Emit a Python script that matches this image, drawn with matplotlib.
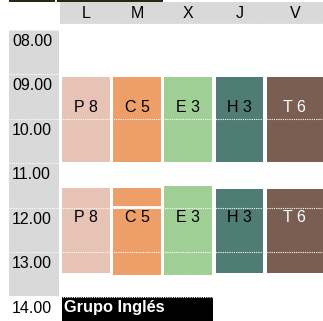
import matplotlib
matplotlib.use("Agg")
import matplotlib.pyplot as plt
from matplotlib.patches import Rectangle

# --- datos ---
days = ["L", "M", "X", "J", "V"]
hour_labels = ["08.00", "09.00", "10.00", "11.00", "12.00", "13.00", "14.00"]
hours = [8, 9, 10, 11, 12, 13, 14]
subjects = ["P 8", "C 5", "E 3", "H 3", "T 6"]
colors = ["#E6C3B5", "#EE9E68", "#A0CF96", "#4F7C74", "#7A5E52"]
text_colors = ["black", "black", "black", "black", "white"]
block1_start = [9.05, 9.05, 9.05, 9.05, 9.05]
block1_end = [10.97, 10.97, 10.97, 10.97, 10.97]
block2_start = [11.55, 11.55, 11.51, 11.57, 11.57]
block2_end = [13.46, 13.51, 13.51, 13.46, 13.46]
group_label = "Grupo Inglés"

# --- layout (pixeles en x, horas en y) ---
PX_H = 44.5
W, H = 323, 321
y_top = 8 - 30 / PX_H
y_bot = 8 + (H - 30) / PX_H
def px(p):
    return 8 + (p - 30) / PX_H

plt.rcParams["font.family"] = ["Liberation Sans", "DejaVu Sans"]
fig = plt.figure(figsize=(W / 100, H / 100), dpi=100)
ax = fig.add_axes([0, 0, 1, 1])
ax.set_xlim(0, W)
ax.set_ylim(y_bot, y_top)
ax.axis("off")

x0, step, bw = 62, 51.2, 47.5
lefts = [x0 + i * step for i in range(len(days))]
widths = [bw] * (len(days) - 1) + [W + 5 - lefts[-1]]
text_rows = [9.74, 12.22]   # posición vertical del texto en cada bloque

# barra superior oscura
ax.add_patch(Rectangle((9, px(0)), 46, px(2) - px(0), color="#2B2612", lw=0))
ax.add_patch(Rectangle((57, px(0)), 106, px(2) - px(0), color="#2B2612", lw=0))
# cabecera gris
ax.add_patch(Rectangle((60, px(2.5)), W - 60, px(24) - px(2.5), color="#D9D9D9", lw=0))
ax.plot([60, W], [px(24.5), px(24.5)], color="white", lw=1, ls=(0, (1, 1)))
for i, d in enumerate(days):
    cx = lefts[i] + min(widths[i], W - lefts[i]) / 2
    ax.text(cx, px(13.5), d, ha="center", va="center", fontsize=11.5)

# columna de horas
ax.add_patch(Rectangle((9, 8), 49.5, 6 - 0.03, color="#D9D9D9", lw=0))
for h, lab in zip(hours, hour_labels):
    ax.text(12, h + 0.25, lab, ha="left", va="center", fontsize=11.5)

# bloques
for i in range(len(days)):
    blocks = [(block1_start[i], block1_end[i]), (block2_start[i], block2_end[i])]
    for (s, e), ty in zip(blocks, text_rows):
        ax.add_patch(Rectangle((lefts[i], s), widths[i], e - s, color=colors[i], lw=0))
        cx = lefts[i] + min(widths[i], W - lefts[i]) / 2
        ax.text(cx, ty, subjects[i], ha="center", va="center",
                fontsize=11.5, color=text_colors[i])
# separación blanca en M
ax.plot([lefts[1], lefts[1] + widths[1]], [11.98, 11.98], color="white", lw=2)

# grupo
ax.add_patch(Rectangle((62, 14), 151, y_bot - 14, color="black", lw=0))
ax.text(64, 14 + 11 / PX_H, group_label, ha="left", va="center",
        fontsize=11.8, color="white", fontweight="bold")

# líneas punteadas de las horas
for h in hours:
    ax.plot([9, W], [h - 0.01, h - 0.01], color="white", lw=0.8, ls=(0, (1, 1)))
ax.plot([lefts[1], lefts[2] + widths[2]], [13.5, 13.5], color="white", lw=0.8, ls=(0, (1, 1)))

fig.savefig("out.png", dpi=100)
